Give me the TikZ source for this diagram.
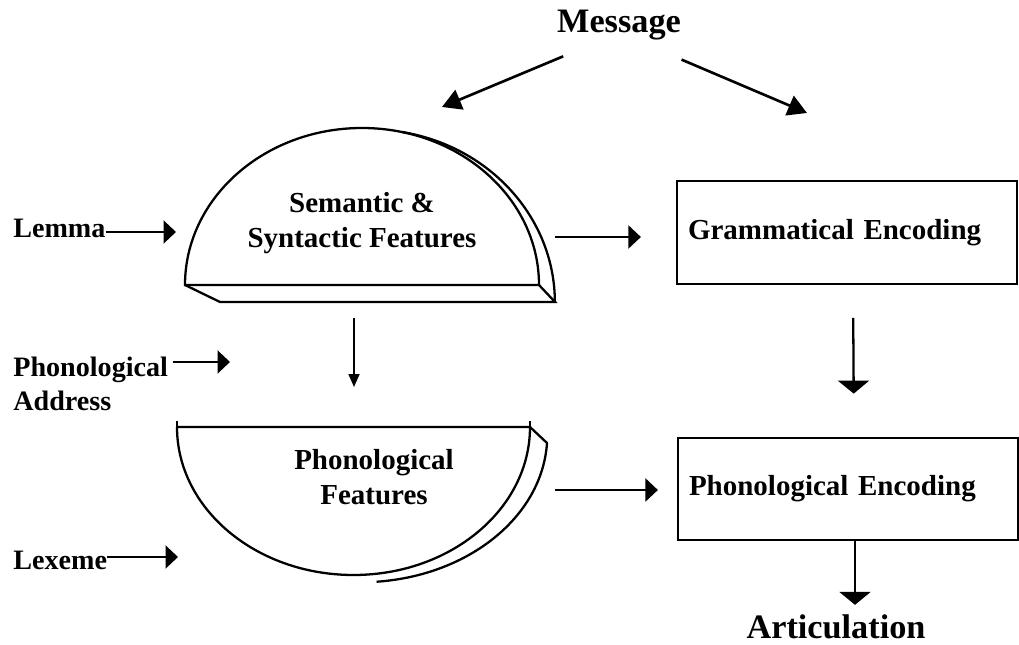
\documentclass[tikz,border=0pt]{standalone}
\usepackage{fontspec}
\setmainfont{Liberation Serif}
\usetikzlibrary{arrows.meta,positioning,calc}

\begin{document}
\begin{tikzpicture}[x=0.02cm, y=-0.02cm,
  lbl/.style={font=\fontsize{16}{19.5}\selectfont\bfseries, inner sep=0pt, align=left},
  big/.style={font=\fontsize{19.5}{22}\selectfont\bfseries, inner sep=0pt},
  feat/.style={font=\fontsize{16.5}{19.5}\selectfont\bfseries, inner sep=0pt, align=center},
  box/.style={draw, line width=1.3pt, minimum height=2.05cm, text width=6.36cm,
              inner xsep=0.22cm, align=left, font=\fontsize{16.5}{19}\selectfont\bfseries},
  rim/.style={line width=1.3pt},
  arr/.style={-{Triangle[length=2.5mm,width=4.6mm]}, line width=1.3pt},
  marr/.style={-{Triangle[length=3.8mm,width=4.2mm]}, line width=1.5pt},
  darr/.style={-{Triangle[length=2.6mm,width=6.2mm]}, line width=1.3pt},
  sarr/.style={-{Triangle[length=2.6mm,width=2.2mm]}, line width=1pt}
]
\useasboundingbox (0,0) rectangle (1019,645);

% lemma half disc
\draw[rim] (185,285) arc[start angle=180, end angle=360, x radius=177, y radius=157] -- cycle;
\draw[rim] (185,285) -- (220,302) -- (555,302) -- (539,285);
\draw[rim] (402,132) arc[start angle=280, end angle=360, x radius=185, y radius=173];
\node[feat] (sem) at (362,223) {Semantic \&\\Syntactic Features};

% lexeme bowl
\draw[rim] (177,427) -- (530,427) arc[start angle=0, end angle=180, x radius=176.5, y radius=148] -- cycle;
\draw[rim] (177,421) -- (177,433) (530,421) -- (530,433);
\draw[rim] (530,427) -- (547,443) arc[start angle=3, end angle=85, x radius=187, y radius=147];
\node[feat] (feat) at (374,477) {Phonological\\Features};

\node[box] (gram) at (847,232.5) {Grammatical Encoding};
\node[box] (phonenc) at (848,489) {Phonological Encoding};

\node[big, anchor=base] (msg) at (619,33) {Message};
\node[big, anchor=base] (artic) at (836,639) {Articulation};

\node[lbl, anchor=base west] (lemma) at (13,238) {Lemma};
\node[lbl, anchor=west] (paddr) at (13,384) {Phonological\\Address};
\node[lbl, anchor=base west] (lexeme) at (13,570) {Lexeme};

\coordinate (semIn) at (176,232);
\coordinate (addrIn) at (230,362);
\coordinate (lexIn) at (178,557);
\coordinate (semOut) at (555,237);
\coordinate (featOut) at (555,490);
\coordinate (semBot) at (354,318);
\coordinate (featTop) at (354,387);
\coordinate (semTop) at (442,107);
\coordinate (gramTop) at (807,113);

\draw[marr, shorten <=1.21cm] (msg.base) -- (semTop);
\draw[marr, shorten <=1.36cm] (msg.base) -- (gramTop);

\draw[arr] (lemma.east |- semIn) -- (semIn);
\draw[arr, shorten <=0.1cm] (paddr.east |- addrIn) -- (addrIn);
\draw[arr] (lexeme.east |- lexIn) -- (lexIn);

\draw[arr, shorten >=0.7cm] (semOut) -- (semOut -| gram.west);
\draw[arr, shorten >=0.38cm] (featOut) -- (featOut -| phonenc.west);
\draw[sarr] (semBot) -- (featTop);

\draw[darr, shorten <=0.66cm, shorten >=0.86cm] ([xshift=0.12cm]gram.south) -- ([xshift=0.12cm]phonenc.north);
\draw[darr, shorten >=0.2cm] ([xshift=0.14cm]phonenc.south) -- ([xshift=0.14cm]phonenc.south |- artic.north);
\end{tikzpicture}
\end{document}
